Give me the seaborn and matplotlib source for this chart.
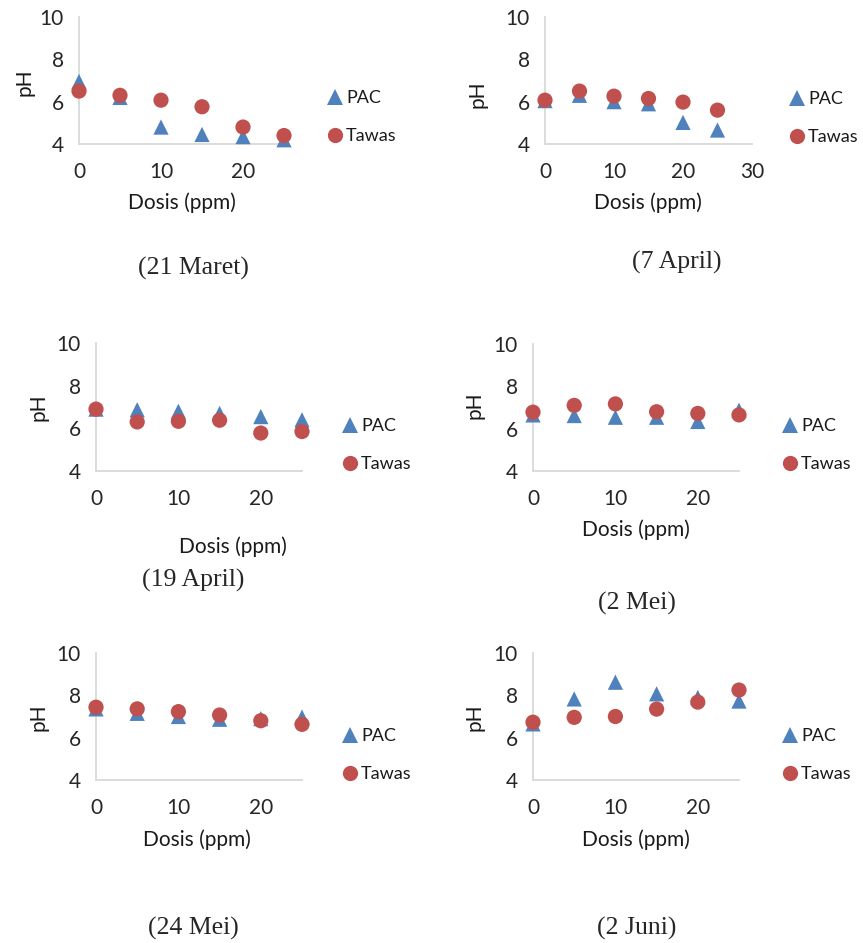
import matplotlib
matplotlib.use("Agg")
import matplotlib.pyplot as plt
import seaborn as sns
import pandas as pd

# dosis (ppm) and pH readings per sampling date
dosis = [0, 5, 10, 15, 20, 25]
dates = ["21 Maret", "7 April", "19 April", "2 Mei", "24 Mei", "2 Juni"]
pac_ph = [
    [6.95, 6.2, 4.8, 4.45, 4.35, 4.2],
    [6.05, 6.3, 6.0, 5.9, 5.02, 4.66],
    [6.9, 6.87, 6.8, 6.7, 6.55, 6.4],
    [6.65, 6.62, 6.54, 6.54, 6.34, 6.87],
    [7.36, 7.15, 7.0, 6.87, 6.9, 6.97],
    [6.65, 7.83, 8.62, 8.07, 7.9, 7.73],
]
tawas_ph = [
    [6.5, 6.3, 6.07, 5.76, 4.8, 4.4],
    [6.07, 6.5, 6.26, 6.15, 5.98, 5.6],
    [6.9, 6.3, 6.33, 6.38, 5.78, 5.85],
    [6.78, 7.1, 7.17, 6.8, 6.72, 6.65],
    [7.44, 7.36, 7.23, 7.07, 6.8, 6.63],
    [6.73, 6.96, 7.0, 7.35, 7.68, 8.25],
]
x_max = [25, 30, 25, 25, 25, 25]

W, H = 863, 943
# pixel boxes: left, right, top, bottom of each plot area
boxes = [(79, 284, 17, 144), (545, 752, 17, 144),
         (96, 302, 343, 471), (533, 739, 344, 471),
         (96, 302, 653, 780), (533, 739, 653, 780)]
xlabel_pos = [(182, 203), (648, 203), (233, 547), (636, 530), (197, 840), (636, 840)]
ylabel_pos = [(25, 82), (477, 94), (38, 407), (475, 405), (38, 717), (475, 717)]
# centre of the legend marker column, middle of the two rows
legend_pos = [(335, 117), (797, 118), (350, 445), (790, 445), (350, 755), (790, 755)]
caption_pos = [(193, 268), (677, 262), (193, 580), (637, 603), (193, 928), (637, 928)]

sns.set_theme(style="white")
plt.rcParams["font.family"] = ["Lato", "DejaVu Sans"]

palette = {"PAC": "#4F81BD", "Tawas": "#C0504D"}
markers = {"PAC": "^", "Tawas": "o"}

fig = plt.figure(figsize=(W / 100, H / 100), dpi=100)


def fx(px):
    return px / W


def fy(py):
    return 1 - py / H


leg_fs = 13
for i, date in enumerate(dates):
    l, r, t, b = boxes[i]
    ax = fig.add_axes([fx(l), fy(b), fx(r) - fx(l), fy(t) - fy(b)])
    df = pd.DataFrame({
        "Dosis": dosis * 2,
        "pH": pac_ph[i] + tawas_ph[i],
        "Koagulan": ["PAC"] * len(dosis) + ["Tawas"] * len(dosis),
    })
    sns.scatterplot(data=df, x="Dosis", y="pH", hue="Koagulan", style="Koagulan",
                    palette=palette, markers=markers, s=120, linewidth=0,
                    ax=ax, clip_on=False, zorder=3)
    ax.set_xlim(0, x_max[i])
    ax.set_ylim(4, 10)
    ax.set_xticks(range(0, x_max[i] + 1, 10))
    ax.set_yticks([4, 6, 8, 10])
    ax.tick_params(length=0, labelsize=15, colors="#262626")
    ax.tick_params(axis="x", pad=13)
    ax.tick_params(axis="y", pad=11)
    for side in ["top", "right"]:
        ax.spines[side].set_visible(False)
    for side in ["left", "bottom"]:
        ax.spines[side].set_color("#d9d9d9")
        ax.spines[side].set_linewidth(1.3)

    ax.set_xlabel("Dosis (ppm)", fontsize=15, color="#1a1a1a")
    ax.xaxis.set_label_coords(fx(xlabel_pos[i][0]), fy(xlabel_pos[i][1]), transform=fig.transFigure)
    ax.xaxis.label.set_va("center")
    ax.set_ylabel("pH", fontsize=15, color="#1a1a1a")
    ax.yaxis.set_label_coords(fx(ylabel_pos[i][0]), fy(ylabel_pos[i][1]), transform=fig.transFigure)
    ax.yaxis.label.set_va("center")

    handles, labels = ax.get_legend_handles_labels()
    keep = [(h, lab) for h, lab in zip(handles, labels) if lab in palette]
    half = leg_fs * 100 / 72 * 0.5
    ax.legend([k[0] for k in keep], [k[1] for k in keep], loc="center left",
              bbox_to_anchor=(fx(legend_pos[i][0] - half), fy(legend_pos[i][1])),
              bbox_transform=fig.transFigure, frameon=False, fontsize=leg_fs,
              handlelength=1.0, handletextpad=0.12, labelspacing=1.2, borderpad=0,
              borderaxespad=0, labelcolor="#1a1a1a")

    fig.text(fx(caption_pos[i][0]), fy(caption_pos[i][1]), f"({date})",
             ha="center", va="center", fontsize=18.5, family="Liberation Serif")

fig.savefig("out.png", dpi=100)
